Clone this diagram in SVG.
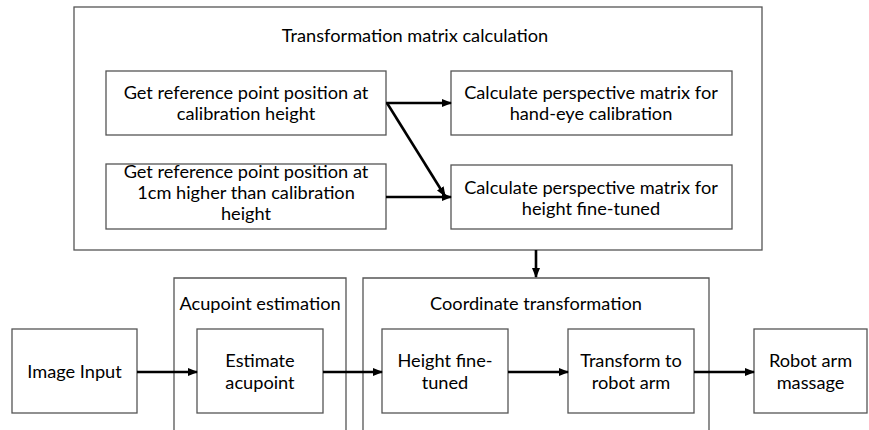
<svg xmlns="http://www.w3.org/2000/svg" width="869" height="430" viewBox="0 0 869 430">
<style>
.box{fill:#fff;stroke:#555;stroke-width:1.3}
.grp{fill:none;stroke:#555;stroke-width:1.3}
.t{font-family:Lato,"Liberation Sans",sans-serif;font-size:18.2px;fill:#000;text-anchor:middle}
.c{fill:none;stroke:#000;stroke-width:2.6}
</style>
<defs>
<marker id="ah" markerUnits="userSpaceOnUse" markerWidth="10" markerHeight="8" refX="9" refY="4" orient="auto">
<path d="M0,0 L10,4 L0,8 Z" fill="#000"/>
</marker>
</defs>
<rect width="869" height="430" fill="#fff"/>
<g id="transformation-matrix-group">
<rect class="grp" x="74" y="7" width="688" height="243"/>
<text class="t" x="415" y="42">Transformation matrix calculation</text>
</g>
<g id="acupoint-group">
<path class="grp" d="M174,431 V278 H346 V431"/>
<text class="t" x="260" y="310">Acupoint estimation</text>
</g>
<g id="coordinate-group">
<path class="grp" d="M363,431 V278 H709 V431"/>
<text class="t" x="536" y="310">Coordinate transformation</text>
</g>
<g id="ref-cal">
<rect class="box" x="106" y="71" width="280" height="64"/>
<text class="t" x="246" y="99">Get reference point position at</text>
<text class="t" x="246" y="120">calibration height</text>
</g>
<g id="ref-1cm">
<rect class="box" x="106" y="164" width="280" height="65"/>
<text class="t" x="246" y="178">Get reference point position at</text>
<text class="t" x="246" y="199">1cm higher than calibration</text>
<text class="t" x="246" y="220">height</text>
</g>
<g id="persp-handeye">
<rect class="box" x="451" y="71" width="281" height="64"/>
<text class="t" x="591" y="99">Calculate perspective matrix for</text>
<text class="t" x="591" y="120">hand-eye calibration</text>
</g>
<g id="persp-height">
<rect class="box" x="451" y="165" width="281" height="64"/>
<text class="t" x="591" y="194">Calculate perspective matrix for</text>
<text class="t" x="591" y="215">height fine-tuned</text>
</g>
<g id="image-input">
<rect class="box" x="12" y="329" width="125" height="84"/>
<text class="t" x="74.5" y="378">Image Input</text>
</g>
<g id="estimate-acupoint">
<rect class="box" x="197" y="329" width="126" height="84"/>
<text class="t" x="260" y="367">Estimate</text>
<text class="t" x="260" y="389">acupoint</text>
</g>
<g id="height-fine-tuned">
<rect class="box" x="382" y="329" width="126" height="84"/>
<text class="t" x="445" y="367">Height fine-</text>
<text class="t" x="445" y="389">tuned</text>
</g>
<g id="transform-robot">
<rect class="box" x="568" y="329" width="126" height="84"/>
<text class="t" x="631" y="367">Transform to</text>
<text class="t" x="631" y="389">robot arm</text>
</g>
<g id="robot-massage">
<rect class="box" x="754" y="329" width="113" height="84"/>
<text class="t" x="810.5" y="367">Robot arm</text>
<text class="t" x="810.5" y="389">massage</text>
</g>
<g id="connectors">
<line class="c" x1="386" y1="103" x2="451" y2="103" marker-end="url(#ah)"/>
<line class="c" x1="387" y1="103" x2="445" y2="196" marker-end="url(#ah)"/>
<line class="c" x1="386" y1="197" x2="451" y2="197" marker-end="url(#ah)"/>
<line class="c" x1="536" y1="250" x2="536" y2="277" marker-end="url(#ah)"/>
<line class="c" x1="137" y1="372" x2="197" y2="372" marker-end="url(#ah)"/>
<line class="c" x1="323" y1="372" x2="382" y2="372" marker-end="url(#ah)"/>
<line class="c" x1="508" y1="372" x2="568" y2="372" marker-end="url(#ah)"/>
<line class="c" x1="694" y1="372" x2="754" y2="372" marker-end="url(#ah)"/>
</g>
</svg>
